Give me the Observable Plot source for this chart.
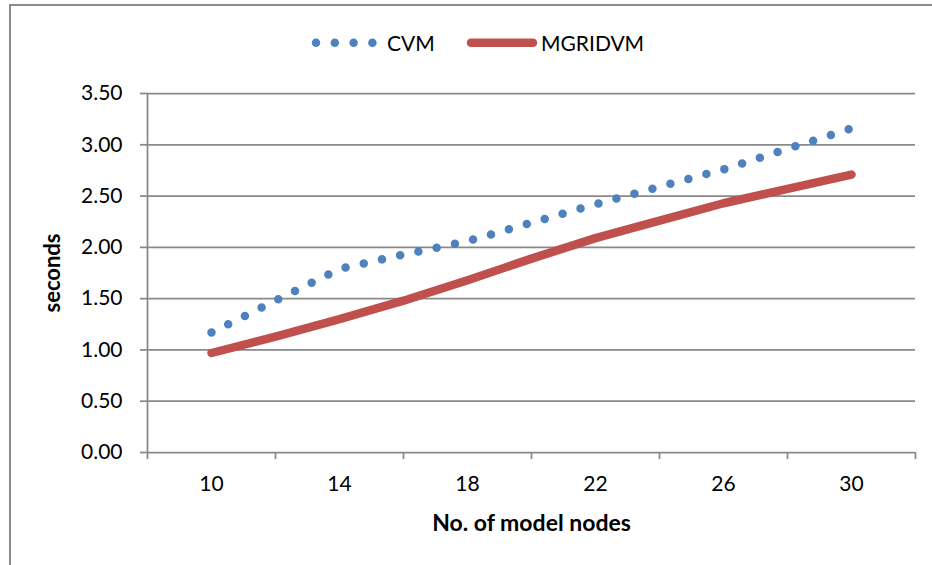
<!DOCTYPE html>
<html><head><meta charset="utf-8">
<script src="https://cdn.jsdelivr.net/npm/d3@7"></script>
<script src="https://cdn.jsdelivr.net/npm/@observablehq/plot@0.6"></script>
<style>
body{margin:0;background:#fff;}
#wrap{position:relative;width:932px;height:565px;overflow:hidden;font-family:Lato,sans-serif;background:#fff;}
#frame{position:absolute;left:9px;top:4px;right:-5px;bottom:-5px;border-left:2px solid #8a8a8a;border-top:2px solid #8a8a8a;pointer-events:none;}
#legend{position:relative;height:66px;}
#legend .lg{position:absolute;font-size:21px;line-height:26px;top:30px;color:#000;white-space:nowrap;}
#legend svg{position:absolute;left:0;top:0;}
#chart{position:relative;height:499px;}
#chart svg{display:block;}
</style></head>
<body><div id="wrap"><div id="frame"></div><div id="legend"></div><div id="chart"></div></div>
<script>
// ---- data ----
const nodes = [10, 12, 14, 16, 18, 20, 22, 24, 26, 28, 30];
const cvm = [1.17, 1.48, 1.79, 1.93, 2.06, 2.24, 2.42, 2.59, 2.76, 2.96, 3.16];
const mgridvm = [0.97, 1.13, 1.30, 1.48, 1.68, 1.89, 2.09, 2.26, 2.43, 2.57, 2.71];
const seriesNames = ["CVM", "MGRIDVM"];
const seriesColors = ["#4F81BD", "#C0504D"];
const yTicks = [0, 0.5, 1, 1.5, 2, 2.5, 3, 3.5];
const xTickMarks = [8, 12, 16, 20, 24, 28, 32];
const xTickLabels = [10, 14, 18, 22, 26, 30];
const xTitle = "No. of model nodes";
const yTitle = "seconds";

const rows = [];
nodes.forEach((n, i) => {
  rows.push({nodes: n, seconds: cvm[i], series: seriesNames[0]});
  rows.push({nodes: n, seconds: mgridvm[i], series: seriesNames[1]});
});
const axisColor = "#898989";

// ---- legend (HTML above the svg) ----
const legend = document.getElementById("legend");
const ns = "http://www.w3.org/2000/svg";
const lsvg = document.createElementNS(ns, "svg");
lsvg.setAttribute("width", 932); lsvg.setAttribute("height", 66);
function lline(x1, x2, color, dash) {
  const l = document.createElementNS(ns, "line");
  l.setAttribute("x1", x1); l.setAttribute("x2", x2);
  l.setAttribute("y1", 42.7); l.setAttribute("y2", 42.7);
  l.setAttribute("stroke", color); l.setAttribute("stroke-width", 8.5);
  l.setAttribute("stroke-linecap", "round");
  if (dash) l.setAttribute("stroke-dasharray", dash);
  lsvg.appendChild(l);
}
lline(316, 373, seriesColors[0], "0 18.8");
lline(471, 533, seriesColors[1], null);
legend.appendChild(lsvg);
[[seriesNames[0], 387], [seriesNames[1], 541]].forEach(([t, x]) => {
  const s = document.createElement("span");
  s.className = "lg"; s.textContent = t; s.style.left = x + "px";
  legend.appendChild(s);
});

// ---- chart ----
const chart = Plot.plot({
  width: 932,
  height: 499,
  marginTop: 27,
  marginLeft: 147,
  marginRight: 17,
  marginBottom: 113,
  style: {fontFamily: "Lato, sans-serif", fontSize: "21px", color: "#000", background: "transparent", overflow: "visible"},
  x: {domain: [8, 32]},
  y: {domain: [0, 3.5]},
  color: {domain: seriesNames, range: seriesColors},
  marks: [
    Plot.gridY(yTicks.filter(d => d > 0), {stroke: axisColor, strokeOpacity: 1, strokeWidth: 1.75}),
    Plot.ruleY([0], {stroke: axisColor, strokeWidth: 1.75}),
    Plot.ruleX([8], {stroke: axisColor, strokeWidth: 1.75}),
    Plot.axisY(yTicks, {tickSize: 7, tickPadding: 18, tickFormat: d3.format(".2f"), stroke: axisColor, strokeWidth: 1.75, label: null}),
    Plot.axisY([], {tickSize: 0, label: yTitle, labelAnchor: "center", labelArrow: "none", labelOffset: 103, fontWeight: "bold", fontSize: 22}),
    Plot.axisX(xTickMarks, {tickSize: 7, tickFormat: () => "", stroke: axisColor, strokeWidth: 1.75, label: null}),
    Plot.axisX(xTickLabels, {tickSize: 0, tickPadding: 24, label: null}),
    Plot.axisX([], {tickSize: 0, label: xTitle, labelAnchor: "center", labelArrow: "none", labelOffset: 78, fontWeight: "bold", fontSize: 23}),
    Plot.line(rows.filter(d => d.series === seriesNames[1]), {x: "nodes", y: "seconds", stroke: "series", strokeWidth: 8.5, strokeLinecap: "round", strokeLinejoin: "round"}),
    Plot.line(rows.filter(d => d.series === seriesNames[0]), {x: "nodes", y: "seconds", stroke: "series", strokeWidth: 8.5, strokeLinecap: "round", strokeLinejoin: "round", strokeDasharray: "0 18.8"})
  ]
});
document.getElementById("chart").appendChild(chart);
// fit the dot period so the last dot sits just before the line's end
chart.querySelectorAll("g[stroke-dasharray] path, path[stroke-dasharray]").forEach(p => {
  const len = p.getTotalLength();
  const usable = len - 3;
  const n = Math.round(usable / 18.8);
  p.setAttribute("stroke-dasharray", `0 ${usable / n}`);
});
</script>
</body></html>
